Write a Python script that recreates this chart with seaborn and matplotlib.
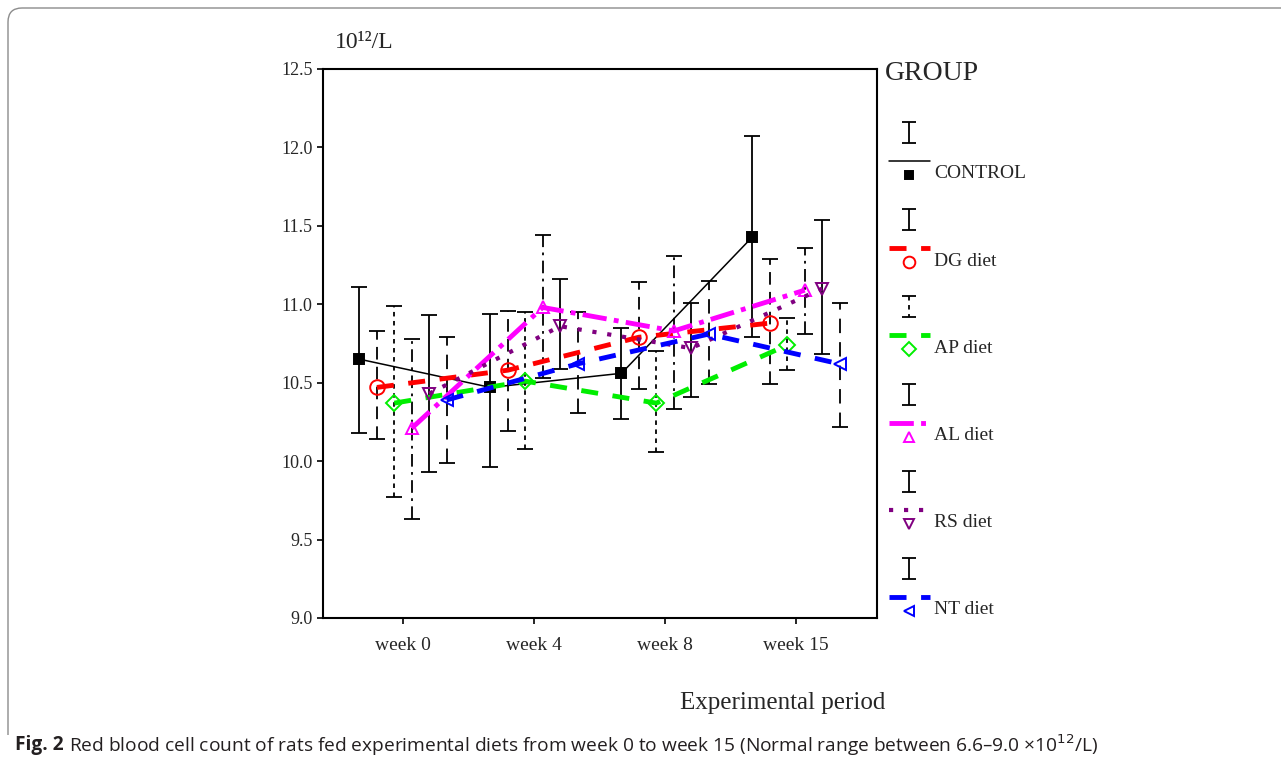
import numpy as np
import pandas as pd
import matplotlib
matplotlib.use("Agg")
import matplotlib.pyplot as plt
from matplotlib.path import Path
from matplotlib.patches import PathPatch
import seaborn as sns

# data (10^12/L)
weeks = ["week 0", "week 4", "week 8", "week 15"]
groups = ["CONTROL", "DG diet", "AP diet", "AL diet", "RS diet", "NT diet"]

control_mean = [10.65, 10.47, 10.56, 11.43]
control_low = [10.18, 9.96, 10.27, 10.79]
control_high = [11.11, 10.94, 10.85, 12.07]

dg_mean = [10.47, 10.58, 10.79, 10.88]
dg_low = [10.14, 10.19, 10.46, 10.49]
dg_high = [10.83, 10.96, 11.14, 11.29]

ap_mean = [10.37, 10.51, 10.37, 10.74]
ap_low = [9.77, 10.08, 10.06, 10.58]
ap_high = [10.99, 10.95, 10.70, 10.91]

al_mean = [10.21, 10.98, 10.83, 11.09]
al_low = [9.63, 10.53, 10.33, 10.81]
al_high = [10.78, 11.44, 11.31, 11.36]

rs_mean = [10.43, 10.86, 10.72, 11.10]
rs_low = [9.93, 10.59, 10.41, 10.68]
rs_high = [10.93, 11.16, 11.01, 11.54]

nt_mean = [10.39, 10.62, 10.81, 10.62]
nt_low = [9.99, 10.31, 10.49, 10.22]
nt_high = [10.79, 10.95, 11.15, 11.01]

means = [control_mean, dg_mean, ap_mean, al_mean, rs_mean, nt_mean]
lows = [control_low, dg_low, ap_low, al_low, rs_low, nt_low]
highs = [control_high, dg_high, ap_high, al_high, rs_high, nt_high]

# line / marker / errorbar look for each group
styles = [
    dict(color="black", lw=1.1, dashes=None, marker="s", ms=7, mfc="black", err=None),
    dict(color="#ff0000", lw=3.5, dashes=(3.5, 3), marker="o", ms=10.5, mfc="none", err=(0, (7, 4))),
    dict(color="#00ee00", lw=3.5, dashes=(3.5, 3), marker="D", ms=8.5, mfc="none", err=(0, (2.5, 2.5))),
    dict(color="#ff00ff", lw=3.5, dashes=(5, 1.5, 1, 1.5), marker="^", ms=9, mfc="none", err=(0, (7, 3, 1.5, 3))),
    dict(color="#800080", lw=3.0, dashes=(1, 2.6), marker="v", ms=9, mfc="none", err=None),
    dict(color="#0000ff", lw=3.5, dashes=(3.5, 3), marker="<", ms=9, mfc="none", err=(0, (8, 5))),
]

sns.set_style("ticks")
plt.rcParams["font.family"] = ["Liberation Serif", "DejaVu Serif"]

W, H = 1281, 761
fig = plt.figure(figsize=(W / 100, H / 100), dpi=100)
ax = fig.add_axes([323 / W, 1 - 618 / H, (877 - 323) / W, (618 - 69) / H])

step = 0.133
pos = np.arange(len(weeks))

for i, g in enumerate(groups):
    st = styles[i]
    x = pos + (i - 2.5) * step
    m = np.array(means[i])
    lo = m - np.array(lows[i])
    hi = np.array(highs[i]) - m
    eb = ax.errorbar(x, m, yerr=[lo, hi], fmt="none", ecolor="black",
                     elinewidth=1.3, capsize=6, capthick=1.3, zorder=2)
    if st["err"] is not None:
        eb[2][0].set_linestyle(st["err"])

    df = pd.DataFrame({"x": x, "value": m})
    kw = dict(color=st["color"], lw=st["lw"], marker=st["marker"], ms=st["ms"],
              mfc=st["mfc"], mec=st["color"], mew=1.4, zorder=3)
    if st["dashes"] is not None:
        kw["dashes"] = st["dashes"]
    sns.lineplot(data=df, x="x", y="value", ax=ax, estimator=None, errorbar=None,
                 sort=False, legend=False, **kw)

ax.set_xlim(-0.611, 3.618)
ax.set_ylim(9.0, 12.5)
ax.set_xticks(pos)
ax.set_xticklabels(weeks)
ax.set_yticks(np.arange(9.0, 12.51, 0.5))
ax.set_yticklabels([f"{v:.1f}" for v in np.arange(9.0, 12.51, 0.5)])
ax.set_xlabel("")
ax.set_ylabel("")
ax.tick_params(axis="both", labelsize=13, length=4, width=1.2, color="black")
ax.tick_params(axis="x", labelsize=14, pad=10)
for sp in ax.spines.values():
    sp.set_visible(True)
    sp.set_linewidth(1.5)
    sp.set_color("black")

fig.text(335 / W, 1 - 42 / H, "10\u00b9\u00b2/L", fontsize=17, va="center", ha="left")
fig.text(885 / W, 1 - 703 / H, "Experimental period", fontsize=18, va="center", ha="right")

# legend drawn in its own pixel-space axes
lax = fig.add_axes([880 / W, 0, 200 / W, 1])
lax.set_xlim(880, 1080)
lax.set_ylim(H, 0)
lax.axis("off")
lax.text(885, 74, "GROUP", fontsize=20, va="center", ha="left")
for i, g in enumerate(groups):
    st = styles[i]
    t = 122 + i * 87.2
    eb = lax.errorbar([909], [t + 10.5], yerr=[[10.5], [10.5]], fmt="none", ecolor="black",
                      elinewidth=1.3, capsize=5, capthick=1.3)
    if st["err"] is not None and i == 2:
        eb[2][0].set_linestyle(st["err"])
    lkw = dict(color=st["color"], lw=st["lw"])
    if st["dashes"] is not None:
        lkw["dashes"] = st["dashes"]
    lax.plot([889, 930], [t + 39, t + 39], **lkw)
    lax.plot([909], [t + 53], ls="none", marker=st["marker"], ms=st["ms"] * 0.8,
             mfc=st["mfc"], mec=st["color"], mew=1.4)
    lax.text(934, t + 52, g, fontsize=14, va="center", ha="left")

# rounded frame around the figure panel
verts = [(W + 5, 8), (22, 8), (8, 8), (8, 22), (8, 735)]
codes = [Path.MOVETO, Path.LINETO, Path.CURVE3, Path.CURVE3, Path.LINETO]
bax = fig.add_axes([0, 0, 1, 1], zorder=-1)
bax.set_xlim(0, W)
bax.set_ylim(H, 0)
bax.axis("off")
bax.add_patch(PathPatch(Path(verts, codes), fill=False, ec="#8c8c8c", lw=1.0))

# caption: bold label then the sentence right after it
cap_font = ["Open Sans", "DejaVu Sans"]
cap_size = 13.8
lab = fig.text(15 / W, 1 - 745 / H, "Fig. 2", fontsize=cap_size, fontweight="bold",
               family=cap_font, va="center", ha="left", color="#231f20")
fig.canvas.draw()
bb = lab.get_window_extent(renderer=fig.canvas.get_renderer())
fig.text((bb.x1 + 5) / W, 1 - 745 / H,
         "Red blood cell count of rats fed experimental diets from week 0 to week 15 "
         "(Normal range between 6.6\u20139.0 \u00d710$^{12}$/L)",
         fontsize=cap_size, family=cap_font, va="center", ha="left", color="#231f20")

fig.savefig("out.png", dpi=100)
